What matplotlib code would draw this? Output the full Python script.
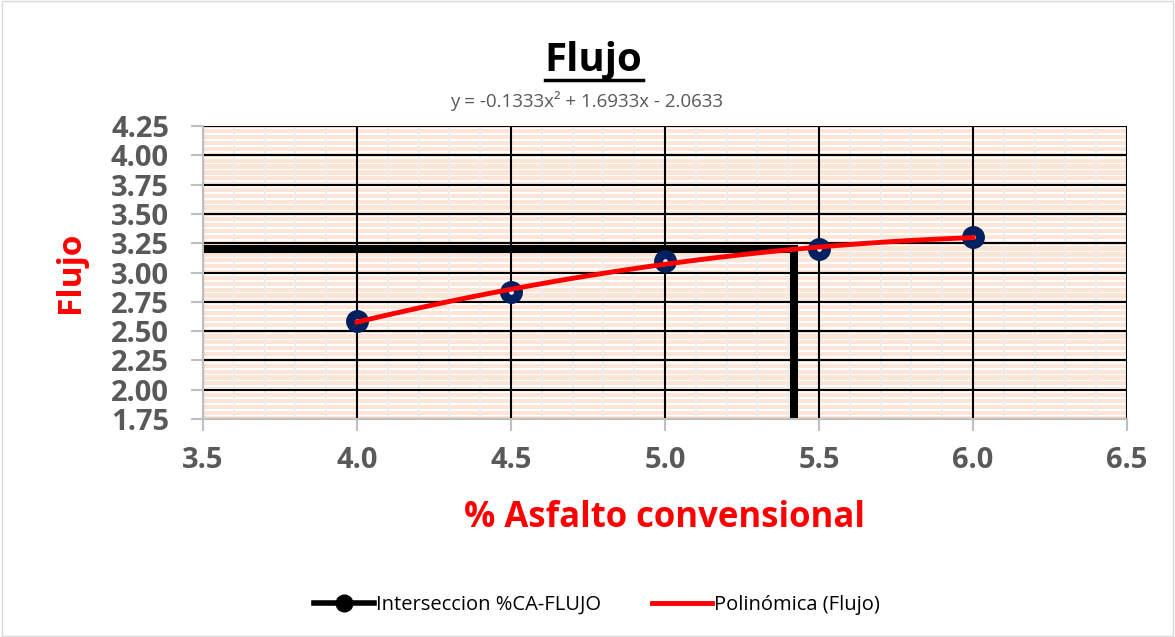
import numpy as np
import matplotlib
matplotlib.use("Agg")
import matplotlib.pyplot as plt
from matplotlib.lines import Line2D
from matplotlib.patches import Rectangle

plt.rcParams['font.family'] = ['Open Sans', 'DejaVu Sans']

# data
asfalto = [4.0, 4.5, 5.0, 5.5, 6.0]
flujo = [2.59, 2.83, 3.10, 3.20, 3.30]
coef = [-0.1333, 1.6933, -2.0633]   # trendline y = a x^2 + b x + c
inter_x = [3.5, 5.42, 5.42]
inter_y = [3.20, 3.20, 1.75]
xticks = [3.5, 4.0, 4.5, 5.0, 5.5, 6.0, 6.5]
yticks = [1.75, 2.00, 2.25, 2.50, 2.75, 3.00, 3.25, 3.50, 3.75, 4.00, 4.25]

gray = '#595959'
red = '#FF0000'
navy = '#002060'

fig = plt.figure(figsize=(11.75, 6.37), dpi=100)
fig.patches.append(Rectangle((0.002, 0.002), 0.996, 0.996, transform=fig.transFigure,
                             fill=False, edgecolor='#D9D9D9', lw=1))
ax = fig.add_axes([0.1728, 0.3422, 0.7863, 0.46])
ax.set_xlim(3.5, 6.5)
ax.set_ylim(1.75, 4.25)

# striped background (Excel pattern fill)
ax.set_facecolor('#FBE5D6')
for ys in np.arange(1.75, 4.25, 0.05):
    ax.axhspan(ys + 0.022, ys + 0.036, color='white', lw=0, zorder=0.1)

# grid
ax.set_xticks(xticks)
ax.set_xticks(np.arange(3.5, 6.51, 0.1), minor=True)
ax.set_yticks(yticks)
ax.grid(which='minor', axis='x', color='#EDEDED', lw=1.5, zorder=0.5)
ax.grid(which='major', axis='both', color='black', lw=1.5, zorder=0.6)
ax.set_axisbelow(True)

# intersection lines
ax.plot(inter_x, inter_y, color='black', lw=5.8, solid_joinstyle='miter', zorder=2)

# data points
ax.plot(asfalto, flujo, 'o', ms=10, mfc='white', mec=navy, mew=6.5, zorder=3)

# trendline
xs = np.linspace(4.0, 6.0, 200)
ax.plot(xs, np.polyval(coef, xs), color=red, lw=3.5, zorder=4)

for s in ['top', 'right']:
    ax.spines[s].set_visible(False)
for s in ['left', 'bottom']:
    ax.spines[s].set_color('#BFBFBF')
    ax.spines[s].set_linewidth(1.5)
ax.tick_params(which='major', color='#BFBFBF', length=8.5, width=1.5, labelcolor=gray)
ax.tick_params(which='minor', length=0)
ax.set_xticklabels([f'{v:.1f}' for v in xticks], fontsize=21, fontweight='bold')
ax.set_yticklabels([f'{v:.2f}' for v in yticks], fontsize=21, fontweight='bold')
ax.tick_params(axis='x', pad=11)
ax.tick_params(axis='y', pad=16)

ax.set_xlabel('% Asfalto convensional', fontsize=25, fontweight='bold', color=red, labelpad=18)
ax.set_ylabel('Flujo', fontsize=24, fontweight='bold', color=red, labelpad=17)

fig.text(0.5045, 0.905, 'Flujo', fontsize=29, fontweight='bold', ha='center', va='center',
         color='black')
# underline for title
fig.add_artist(Line2D([0.4638, 0.5472], [0.874, 0.874], transform=fig.transFigure,
                      color='black', lw=2.5))
fig.text(0.4995, 0.842, 'y = -0.1333x² + 1.6933x - 2.0633', fontsize=13.5, color=gray,
         ha='center', va='center')

handles = [Line2D([0], [0], color='black', lw=4, marker='o', ms=12, mfc='black', mec='black'),
           Line2D([0], [0], color=red, lw=3.5)]
fig.legend(handles, ['Interseccion %CA-FLUJO', 'Polinómica (Flujo)'],
           loc='center', bbox_to_anchor=(0.508, 0.05), ncol=2, frameon=False, fontsize=14.5,
           handlelength=3, handletextpad=0.1, columnspacing=2.5)

fig.savefig('out.png', dpi=100)
